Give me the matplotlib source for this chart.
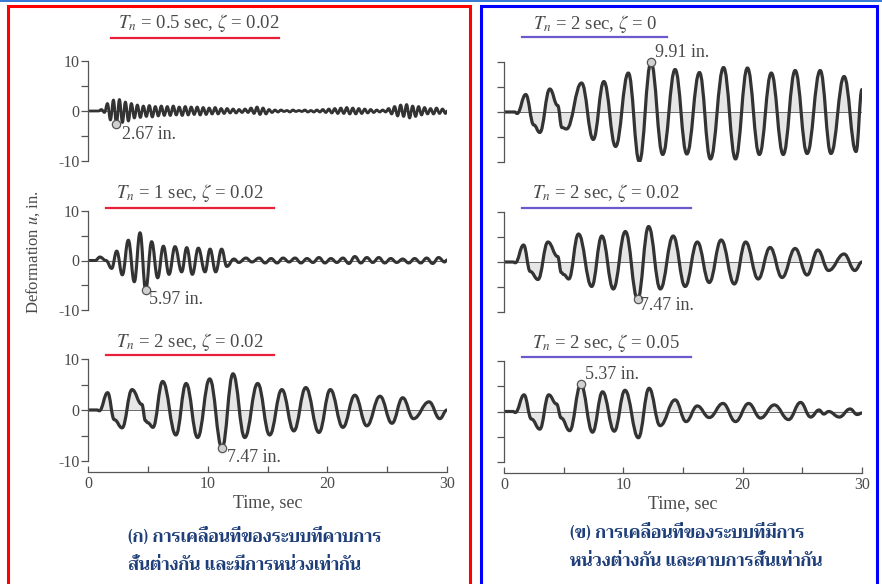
import numpy as np
import matplotlib
matplotlib.use("Agg")
import matplotlib.pyplot as plt
from matplotlib.path import Path
from matplotlib.patches import PathPatch, Rectangle
from matplotlib.lines import Line2D
from matplotlib import font_manager
from matplotlib.ft2font import FT2Font

# ---------------- data ----------------
# Tn = 0.5 s, zeta = 0.02 : peak / trough of every 0.5 s cycle, 0 .. 30 s
l1_period = 0.5
l1_peaks = [0, 0, 0.3, 1.5, 2.2, 2.3, 1.8, 1.5, 1.2, 1.0,
            1.1, 0.9, 1.0, 0.9, 1.0, 0.8, 0.9, 0.8, 0.8, 0.7,
            0.6, 0.7, 0.5, 0.5, 0.4, 0.3, 0.4, 0.6, 0.8, 0.6,
            0.3, 0.2, 0.2, 0.1, 0.2, 0.1, 0.2, 0.1, 0.2, 0.3,
            0.4, 0.5, 0.6, 0.7, 0.6, 0.5, 0.4, 0.3, 0.2, 0.2,
            0.5, 0.9, 1.2, 1.3, 1.0, 0.9, 0.7, 0.5, 0.6, 0.4]
l1_troughs = [0, 0, -0.3, -1.8, -2.67, -2.3, -2.0, -1.4, -1.3, -1.1,
              -1.2, -1.0, -0.9, -0.9, -0.8, -0.9, -0.8, -0.7, -0.8, -0.7,
              -0.6, -0.6, -0.5, -0.4, -0.4, -0.3, -0.3, -0.5, -0.7, -0.6,
              -0.3, -0.2, -0.1, -0.2, -0.1, -0.1, -0.2, -0.2, -0.2, -0.3,
              -0.4, -0.5, -0.5, -0.6, -0.6, -0.5, -0.4, -0.3, -0.2, -0.2,
              -0.6, -1.0, -1.1, -1.4, -1.1, -0.8, -0.6, -0.6, -0.5, -0.5]

# Tn = 1 s, zeta = 0.02 : extrema (time s, deformation in.)
l2_t = [0, 0.6, 1.0, 1.5, 1.98, 2.4, 2.87, 3.37, 3.87, 4.35, 4.82, 5.32, 5.82,
        6.3, 6.77, 7.27, 7.83, 8.25, 8.72, 9.22, 9.78, 10.2, 10.67, 11.17,
        11.6, 12.2, 12.6, 13.2, 13.7, 14.3, 14.8, 15.3, 15.8, 16.3, 16.8,
        17.3, 17.8, 18.3, 18.8, 19.3, 19.8, 20.3, 20.8, 21.3, 21.8, 22.3,
        22.8, 23.3, 23.8, 24.3, 24.8, 25.3, 25.8, 26.3, 26.8, 27.3, 27.8,
        28.3, 28.8, 29.3, 29.8, 30.0]
l2_u = [0, 0, 0.7, 0, -1.6, 1.9, -2.9, 4.1, -4.3, 5.6, -5.97, 3.8, -3.5,
        2.9, -2.8, 2.8, -2.3, 2.6, -2.8, 2.5, -2.3, 2.3, -2.3, 2.3,
        -1.2, 0.3, -0.4, 0.5, -0.3, 0.5, -0.5, 0.4, -0.5, 0.5, -0.3,
        0.5, -0.5, 0.4, -0.4, 0.6, -0.5, 0.4, -0.4, 0.5, -0.6, 0.8,
        -0.5, 0.6, -0.4, 0.6, -0.5, 0.4, -0.4, 0.3, -0.5, 0.4, -0.5,
        0.5, -0.6, 0.6, -0.3, 0.1]

# Tn = 2 s, zeta = 0.02 (same record in both columns)
t2_t = [0, 0.75, 0.95, 1.64, 2.2, 2.85, 3.68, 4.5, 4.8, 5.0, 5.43, 6.24,
        7.35, 8.2, 9.16, 10.17, 11.2, 12.12, 13.1, 14.18, 15.18, 16.2,
        17.2, 18.2, 19.3, 20.25, 21.3, 22.3, 23.3, 24.4, 25.4, 26.3, 27.2,
        28.5, 29.4, 30.0]
t2_u = [0, 0, -0.15, 3.4, -1.9, -3.5, 4.0, 1.1, -2.1, -2.5, -3.4, 5.6,
        -4.9, 5.2, -5.4, 6.1, -7.47, 7.1, -5.4, 5.2, -4.9, 4.0,
        -4.1, 4.4, -4.4, 4.0, -3.4, 2.9, -3.1, 2.7, -2.6, 2.4, -1.7,
        1.6, -1.7, 0.0]

# Tn = 2 s, zeta = 0
r1_t = [0, 0.9, 1.1, 1.82, 2.5, 3.0, 3.84, 4.5, 4.85, 5.24, 6.5, 7.48,
        8.37, 9.35, 10.42, 11.34, 12.32, 13.3, 14.34, 15.32, 16.38, 17.3,
        18.4, 19.4, 20.4, 21.4, 22.4, 23.4, 24.4, 25.4, 26.5, 27.4, 28.5,
        29.5, 30.0]
r1_u = [0, 0, -0.3, 3.5, -2.6, -4.1, 4.6, 1.3, -3.1, -3.4, 5.8, -5.5,
        6.1, -6.9, 7.8, -9.9, 9.91, -8.5, 8.5, -8.4, 7.9, -9.4,
        8.9, -9.4, 8.8, -8.5, 7.8, -8.5, 8.3, -8.3, 8.3, -8.3, 7.1,
        -7.9, 4.5]

# Tn = 2 s, zeta = 0.05
r3_t = [0, 0.75, 0.95, 1.68, 2.3, 3.0, 3.75, 4.4, 4.8, 5.5, 6.44, 7.42,
        8.26, 9.24, 10.14, 11.26, 12.16, 13.08, 14.34, 15.26, 16.2, 17.2,
        18.35, 19.4, 20.5, 21.5, 22.65, 23.85, 24.85, 25.7, 26.4, 26.8,
        27.2, 28.1, 29.0, 29.6, 30.0]
r3_u = [0, 0, -0.2, 3.3, -1.5, -3.5, 3.3, 1.5, -1.3, -3.8, 5.37, -4.1,
        3.9, -3.9, 4.2, -5.2, 4.6, -2.8, 2.3, -2.0, 1.1, -1.2,
        1.6, -2.0, 1.6, -1.3, 1.3, -1.6, 1.8, -1.1, 0.3, -0.5,
        0.0, -1.1, 0.5, -0.6, -0.3]

titles = [r"$T_n$ = 0.5 sec, $\zeta$ = 0.02", r"$T_n$ = 1 sec, $\zeta$ = 0.02",
          r"$T_n$ = 2 sec, $\zeta$ = 0.02", r"$T_n$ = 2 sec, $\zeta$ = 0",
          r"$T_n$ = 2 sec, $\zeta$ = 0.02", r"$T_n$ = 2 sec, $\zeta$ = 0.05"]
peak_labels = ["2.67 in.", "5.97 in.", "7.47 in.", "9.91 in.", "7.47 in.", "5.37 in."]
y_ticks = [-10, -5, 0, 5, 10]
y_ticklabels = ["-10", "", "0", "", "10"]
x_ticks = [0, 5, 10, 15, 20, 25, 30]
x_ticklabels = ["0", "", "10", "", "20", "", "30"]
caption_left = ["(ก) การเคลื่อนที่ของระบบที่คาบการ", "สั่นต่างกัน และมีการหน่วงเท่ากัน"]
caption_right = ["(ข) การเคลื่อนที่ของระบบที่มีการ", "หน่วงต่างกัน และคาบการสั่นเท่ากัน"]

# ---------------- build L1 extrema sequence ----------------
l1_t, l1_u = [0.0], [0.0]
for k, (p, q) in enumerate(zip(l1_peaks, l1_troughs)):
    l1_t += [k * l1_period + 0.125, k * l1_period + 0.375]
    l1_u += [p, q]
l1_t.append(30.0); l1_u.append(0.0)

# ---------------- fonts ----------------
plt.rcParams["font.family"] = "Liberation Serif"
plt.rcParams["mathtext.fontset"] = "stix"
plt.rcParams["axes.unicode_minus"] = False

thai_family = None
thai_bold = None
for f in font_manager.fontManager.ttflist:
    try:
        cm = FT2Font(f.fname).get_charmap()
    except Exception:
        continue
    if 0x0E01 in cm and 0x0E40 in cm and 0x0E48 in cm:
        if thai_family is None:
            thai_family = f.name
        if f.weight in ("bold", 700):
            thai_bold = f.name
if thai_bold:
    thai_family = thai_bold
if thai_family is None:
    thai_family = "DejaVu Sans"

W, H = 882, 584
fig = plt.figure(figsize=(W / 100, H / 100), dpi=100)
fig.patch.set_facecolor("white")

def fx(px):
    return px / W

def fy(py):
    return 1 - py / H

INK = "#333333"
TXT = "#4a4a4a"
FILL = "#e6e6e6"

def curve_path(t, u, close=False):
    verts = [(t[0], u[0])]
    codes = [Path.MOVETO]
    for i in range(len(t) - 1):
        dt = t[i + 1] - t[i]
        verts += [(t[i] + 0.42 * dt, u[i]), (t[i + 1] - 0.42 * dt, u[i + 1]), (t[i + 1], u[i + 1])]
        codes += [Path.CURVE4] * 3
    if close:
        verts += [(t[-1], 0), (t[0], 0), (t[0], u[0])]
        codes += [Path.LINETO, Path.LINETO, Path.CLOSEPOLY]
    return Path(verts, codes)

# panel geometry in pixels: (x0, x1, y_top(=10), y_bot(=-10))
panels = [
    (88, 447, 61, 161), (88, 447, 211, 310), (88, 447, 359, 461),
    (504, 862, 62, 162), (504, 862, 212, 312), (504, 862, 361, 462),
]
series = [(l1_t, l1_u), (l2_t, l2_u), (t2_t, t2_u), (r1_t, r1_u), (t2_t, t2_u), (r3_t, r3_u)]
lws = [2.0, 2.2, 2.3, 2.3, 2.3, 2.3]
# annotation text offsets (dt, du) relative to marked extremum
ann_off = [(0.45, -2.1), (0.3, -1.9), (0.4, -1.8), (0.3, 1.9), (0.2, -1.3), (0.35, 2.0)]
title_px = [(199, 23), (190, 193), (190, 342), (595, 24), (606, 193), (606, 343)]
ul_px = [(111, 279, 38, "#e8203a"), (106, 274, 208, "#e8203a"), (106, 274, 355, "#e8203a"),
         (522, 667, 37, "#6a5acd"), (522, 691, 208, "#6a5acd"), (522, 691, 357, "#6a5acd")]

for i, ((x0, x1, yt, yb), (t, u)) in enumerate(zip(panels, series)):
    ax = fig.add_axes([fx(x0), fy(yb), fx(x1 - x0), (yb - yt) / H])
    ax.set_xlim(0, 30)
    ax.set_ylim(-10, 10)
    ax.patch.set_alpha(0)
    for s in ("top", "right"):
        ax.spines[s].set_visible(False)
    ax.spines["left"].set_color("#555555")
    ax.spines["left"].set_linewidth(0.9)
    ax.set_yticks(y_ticks)
    ax.set_yticklabels(y_ticklabels if i < 3 else [""] * 5)
    ax.tick_params(axis="y", direction="out", length=5, width=0.9, colors="#555555",
                   labelcolor=TXT, labelsize=11.5, pad=1)
    if i in (2, 5):
        ax.spines["bottom"].set_position(("outward", 8))
        ax.spines["bottom"].set_color("#555555")
        ax.spines["bottom"].set_linewidth(0.9)
        ax.set_xticks(x_ticks)
        ax.set_xticklabels(x_ticklabels)
        ax.tick_params(axis="x", direction="in", length=4, width=0.9, colors="#555555",
                       labelcolor=TXT, labelsize=11.5, pad=3)
        ax.set_xlabel("Time, sec", fontsize=13, color=TXT, labelpad=1)
    else:
        ax.spines["bottom"].set_visible(False)
        ax.set_xticks([])
    ax.axhline(0, color="#6a6a6a", lw=0.7, zorder=1)
    ax.add_patch(PathPatch(curve_path(t, u, close=True), facecolor=FILL, edgecolor="none", zorder=0.5))
    ax.add_patch(PathPatch(curve_path(t, u), facecolor="none", edgecolor=INK, lw=lws[i],
                           zorder=2, joinstyle="round", capstyle="round"))
    # marked extremum
    ua = np.asarray(u)
    j = int(np.argmax(np.abs(ua)))
    ax.plot([t[j]], [u[j]], marker="o", ms=6, mfc="#d0d0d0", mec="#555555", mew=0.9,
            zorder=3, clip_on=False)
    dx, dy = ann_off[i]
    ax.text(t[j] + dx, u[j] + dy, peak_labels[i], fontsize=13, color=TXT,
            ha="left", va="center", clip_on=False)
    # title + underline
    tx, ty = title_px[i]
    fig.text(fx(tx), fy(ty), titles[i], fontsize=13.5, color=TXT, ha="center", va="center")
    a, b, yy, col = ul_px[i]
    fig.add_artist(Line2D([fx(a), fx(b)], [fy(yy), fy(yy)], color=col, lw=1.6))

fig.text(fx(33), fy(252), r"Deformation $u$, in.", rotation=90, fontsize=12, color=TXT,
         ha="center", va="center")

# captions
CAP = "#1f3f7a"
for k, line in enumerate(caption_left):
    fig.text(fx(128), fy(537 + 29 * k), line, family=[thai_family, "DejaVu Sans"], fontsize=12.5,
             fontweight="bold", color=CAP, ha="left", va="center")
for k, line in enumerate(caption_right):
    fig.text(fx(570), fy(533 + 29 * k), line, family=[thai_family, "DejaVu Sans"], fontsize=12.5,
             fontweight="bold", color=CAP, ha="left", va="center")

# frames
fig.add_artist(Rectangle((fx(8), fy(590)), fx(470 - 8), (590 - 6) / H, fill=False,
                         edgecolor="#ff0000", lw=2.2))
fig.add_artist(Rectangle((fx(481), fy(590)), fx(877 - 481), (590 - 6) / H, fill=False,
                         edgecolor="#0000ff", lw=2.2))
fig.add_artist(Line2D([0, 1], [fy(0.8), fy(0.8)], color="#1060d0", lw=1.2))

fig.savefig("out.png", dpi=100)
